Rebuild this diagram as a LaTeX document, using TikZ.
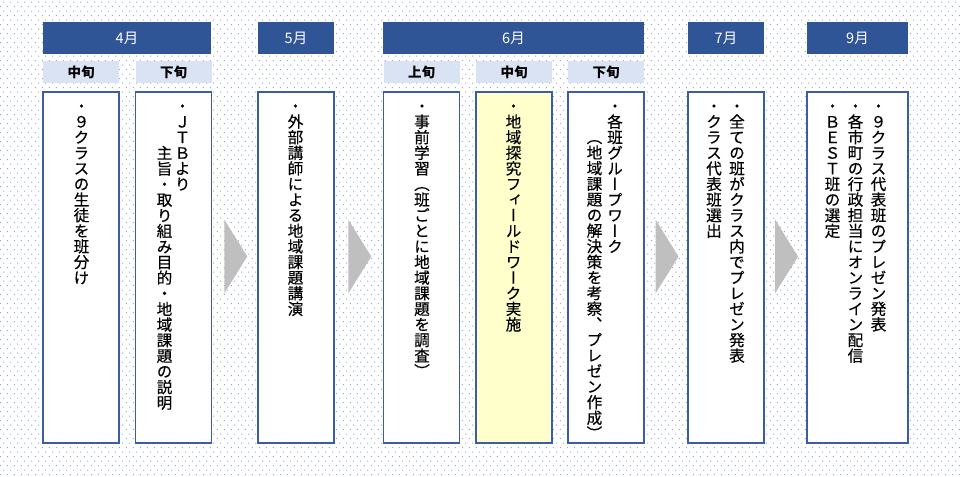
\documentclass[tikz,border=0pt]{standalone}
\usepackage{fontspec}
\setmainfont{Noto Sans CJK JP}
\newfontfamily\tatefont[RawFeature=+vert,FakeBold=0.4]{Noto Sans CJK JP}
\usetikzlibrary{calc,patterns.meta}

\definecolor{barblue}{HTML}{2F5597}
\definecolor{subblue}{HTML}{DAE3F3}
\definecolor{boxblue}{HTML}{3B5CA6}
\definecolor{dotblue}{HTML}{94A9D4}
\definecolor{memo}{HTML}{FFFFCC}
\definecolor{chevgray}{HTML}{BFBFBF}

% stack the characters of #1 top to bottom, one em apart
\makeatletter
\newcommand\tatestack[1]{%
  \vbox{\offinterlineskip
    \@tfor\tc:=#1\do{\hbox to 1em{\vrule height .88em depth .12em width 0pt\hss\tc\hss}}}}
\makeatother

% dotted paper behind the chart
\tikzdeclarepattern{
  name=bgdots,
  type=colored,
  bounding box={(0pt,0pt) and (7.3pt,8.8pt)},
  tile size={(7.3pt,8.8pt)},
  code={
    \fill[dotblue] (1pt,1pt) rectangle (2pt,2pt);
    \fill[dotblue] (4.65pt,5.4pt) rectangle (5.65pt,6.4pt);
  }
}

\begin{document}
\begin{tikzpicture}[x=1pt,y=-1pt,
  monthbar/.style={fill=barblue,text=white,minimum height=32pt,inner sep=0pt,
    font=\fontsize{14.5}{14.5}\selectfont},
  partbar/.style={fill=subblue,minimum width=76pt,minimum height=22pt,inner sep=0pt,
    font=\bfseries\fontsize{13.5}{14}\selectfont},
  taskbox/.style={draw=boxblue,line width=1.3pt,fill=white,
    minimum width=76pt,minimum height=351pt,inner sep=0pt},
  tatecol/.style={anchor=north,inner sep=0pt,
    font=\tatefont\fontsize{15.6}{15.6}\selectfont},
  chevron/.style={fill=chevgray}]

  % --- Background ---
  \fill[white] (0,0) rectangle (960,476);
  \fill[pattern=bgdots] (0,0) rectangle (960,476);

  % --- Parameters ---
  \def\ybar{38}     % month bars
  \def\ysub{72}     % part-of-month bars
  \def\ybox{267.5}  % task boxes
  \def\ytxt{98}     % first character of every column

  % --- Months ---
  \node[monthbar,minimum width=168pt] (m4) at (127,\ybar)   {4月};
  \node[monthbar,minimum width=76pt]  (m5) at (296,\ybar)   {5月};
  \node[monthbar,minimum width=261pt] (m6) at (513.5,\ybar) {6月};
  \node[monthbar,minimum width=76pt]  (m7) at (726,\ybar)   {7月};
  \node[monthbar,minimum width=101pt] (m9) at (857.5,\ybar) {9月};

  % --- Parts of month ---
  \node[partbar] (pA) at (81,\ysub)    {中旬};
  \node[partbar] (pB) at (173.5,\ysub) {下旬};
  \node[partbar] (pD) at (421.5,\ysub) {上旬};
  \node[partbar] (pE) at (514,\ysub)   {中旬};
  \node[partbar] (pF) at (606,\ysub)   {下旬};

  % --- Task boxes ---
  \node[taskbox] (tA) at (81,\ybox)    {};
  \node[taskbox] (tB) at (173.5,\ybox) {};
  \node[taskbox] (tC) at (296,\ybox)   {};
  \node[taskbox] (tD) at (421.5,\ybox) {};
  \node[taskbox,fill=memo] (tE) at (514,\ybox) {};
  \node[taskbox] (tF) at (606,\ybox)   {};
  \node[taskbox] (tG) at (726,\ybox)   {};
  \node[taskbox,minimum width=101pt] (tH) at (857.5,\ybox) {};

  % --- Vertical texts, columns read right to left ---
  \node[tatecol] (xA)  at (81.5,\ytxt)  {\tatestack{・９クラスの生徒を班分け}};
  \node[tatecol] (xB1) at (182.5,\ytxt) {\tatestack{・ＪＴＢより}};
  \node[tatecol] (xB2) at (164.5,145)   {\tatestack{主旨・取り組み目的・地域課題の説明}};
  \node[tatecol] (xC)  at (295.5,\ytxt) {\tatestack{・外部講師による地域課題講演}};
  \node[tatecol] (xD)  at (422,\ytxt)   {\tatestack{・事前学習（班ごとに地域課題を調査）}};
  \node[tatecol] (xE)  at (513.5,\ytxt) {\tatestack{・地域探究フィールドワーク実施}};
  \node[tatecol] (xF1) at (615,\ytxt)   {\tatestack{・各班グループワーク}};
  \node[tatecol] (xF2) at (594.5,129)   {\tatestack{（地域課題の解決策を考察、プレゼン作成）}};
  \node[tatecol] (xG1) at (737,\ytxt)   {\tatestack{・全ての班がクラス内でプレゼン発表}};
  \node[tatecol] (xG2) at (714,\ytxt)   {\tatestack{・クラス代表班選出}};
  \node[tatecol] (xH1) at (878.5,\ytxt) {\tatestack{・９クラス代表班のプレゼン発表}};
  \node[tatecol] (xH2) at (855.5,\ytxt) {\tatestack{・各市町の行政担当にオンライン配信}};
  \node[tatecol] (xH3) at (832.5,\ytxt) {\tatestack{・ＢＥＳＴ班の選定}};

  % --- Chevrons between the steps ---
  \foreach \l/\r in {tB/tC,tC/tD,tF/tG,tG/tH}{
    \coordinate (mid) at ($(\l.east)!0.5!(\r.west)+(1,-11)$);
    \fill[chevron] ($(mid)+(-11.5,-37)$) -- ($(mid)+(11.5,0)$) -- ($(mid)+(-11.5,37)$) -- cycle;
  }
\end{tikzpicture}
\end{document}
